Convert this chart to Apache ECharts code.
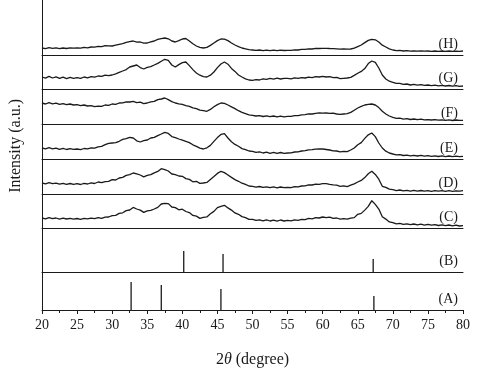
<!DOCTYPE html>
<html>
<head>
<meta charset="utf-8">
<script src="https://cdn.jsdelivr.net/npm/echarts@6/dist/echarts.min.js"></script>
<style>html,body{margin:0;padding:0;background:#fff;}#chart{width:504px;height:371px;}</style>
</head>
<body>
<div id="chart"></div>
<script>
// 2θ sampling positions (degrees)
const twoTheta = [
20,20.5,21,21.5,22,22.5,23,23.5,24,24.5,
25,25.5,26,26.5,27,27.5,28,28.5,29,29.5,
30,30.5,31,31.5,32,32.5,33,33.5,34,34.5,
35,35.5,36,36.5,37,37.5,38,38.5,39,39.5,
40,40.5,41,41.5,42,42.5,43,43.5,44,44.5,
45,45.5,46,46.5,47,47.5,48,48.5,49,49.5,
50,50.5,51,51.5,52,52.5,53,53.5,54,54.5,
55,55.5,56,56.5,57,57.5,58,58.5,59,59.5,
60,60.5,61,61.5,62,62.5,63,63.5,64,64.5,
65,65.5,66,66.5,67,67.5,68,68.5,69,69.5,
70,70.5,71,71.5,72,72.5,73,73.5,74,74.5,
75,75.5,76,76.5,77,77.5,78,78.5,79,79.5,
80];

const xTicks = [20,25,30,35,40,45,50,55,60,65,70,75,80];

// Measured patterns (intensity, a.u.)
const patternC = [
10.0,9.1,10.4,9.3,10.0,8.9,9.8,9.0,9.7,8.8,
9.5,8.7,9.6,9.2,9.9,9.4,10.4,9.6,10.8,11.0,
12.4,12.6,14.6,15.2,17.4,18.0,20.6,19.0,17.9,15.6,
17.2,17.6,19.0,20.6,24.0,24.6,24.4,21.0,20.4,18.2,
18.8,16.5,15.4,12.6,11.9,9.6,10.7,11.1,14.2,16.6,
20.4,21.6,22.7,20.1,17.9,15.1,13.7,11.4,10.4,8.6,
8.7,7.6,8.2,7.2,8.1,7.0,7.9,6.9,8.0,7.0,
7.7,7.2,8.2,7.7,8.7,8.4,9.6,9.2,10.4,10.0,
11.0,10.3,10.9,9.6,10.0,8.9,9.4,8.8,9.9,10.4,
13.7,14.6,17.9,21.6,27.3,23.6,18.9,11.3,8.9,6.1,
5.4,4.1,4.6,3.6,4.2,3.3,4.0,3.1,3.8,2.9,
3.7,2.8,3.4,2.5,3.2,2.3,3.0,2.1,2.8,2.0,
2.3];

const patternD = [
11.0,10.2,11.4,10.3,10.9,9.8,10.7,9.6,10.5,9.7,
10.3,9.5,10.6,10.0,11.1,10.5,12.0,11.4,12.4,12.6,
14.3,14.0,16.0,16.6,18.6,19.4,21.0,20.2,19.0,17.2,
18.6,19.4,21.2,22.6,25.3,24.4,23.0,20.0,19.3,18.0,
17.7,15.4,14.6,12.2,12.7,10.6,11.0,11.6,14.6,17.4,
20.6,22.7,21.4,19.0,16.6,14.4,12.7,10.8,9.6,8.0,
7.7,6.9,7.5,6.6,7.2,6.3,7.1,6.2,7.0,6.3,
6.7,6.4,7.3,7.1,8.0,8.2,9.1,9.0,9.9,9.6,
10.3,10.4,9.6,9.1,8.8,7.7,8.2,7.4,8.8,10.2,
12.0,13.6,16.4,20.2,22.7,19.6,14.8,7.7,6.6,4.8,
4.3,3.4,4.0,3.1,3.7,2.9,3.6,2.9,3.5,2.9,
3.3,2.7,3.4,2.8,3.3,2.6,3.3,2.7,3.2,2.8,
3.3];

const patternE = [
11.0,10.1,11.3,10.2,10.8,9.7,10.6,9.5,10.4,9.6,
10.0,9.4,10.5,10.2,11.2,10.8,12.2,12.6,14.4,15.6,
16.0,16.4,17.7,19.6,20.4,21.6,21.0,18.2,17.0,18.4,
19.0,21.0,21.7,23.4,25.0,26.7,25.6,22.4,21.4,20.0,
18.8,17.6,16.4,14.2,12.7,10.9,10.0,11.2,13.6,17.6,
21.4,24.6,25.3,21.0,17.2,14.6,12.7,10.4,9.4,8.0,
7.7,6.6,7.1,6.0,6.8,5.7,6.6,5.6,6.5,5.7,
6.0,6.2,7.0,7.2,8.0,8.4,9.2,9.4,9.9,10.2,
10.0,9.5,9.0,8.2,8.0,7.2,7.7,7.4,9.0,11.0,
14.3,16.4,20.6,24.2,26.0,22.4,16.0,11.0,7.8,6.0,
5.0,4.2,4.4,3.5,3.9,3.1,3.7,3.0,3.6,2.9,
3.3,2.7,3.2,2.5,3.1,2.4,3.0,2.3,2.9,2.3,
2.7];

const patternF = [
21.0,20.0,21.4,20.2,20.8,19.6,20.4,19.3,20.0,19.0,
19.3,18.4,19.0,18.0,18.4,17.4,17.9,17.7,19.0,18.6,
20.0,19.6,21.0,21.2,22.2,22.0,22.7,21.4,21.8,20.4,
21.0,22.2,22.6,24.4,25.0,26.0,24.4,22.4,21.0,20.2,
19.6,18.4,17.7,16.2,15.4,13.8,13.4,12.7,14.6,17.2,
19.4,21.0,20.6,19.0,17.2,15.4,13.3,11.6,10.4,9.2,
8.7,8.0,8.4,7.5,8.2,7.3,8.0,7.2,7.9,7.2,
7.7,7.6,8.4,8.4,9.2,9.4,10.2,10.0,10.6,11.2,
10.8,11.0,10.6,10.8,10.0,9.6,10.0,10.4,11.6,13.8,
16.0,17.6,19.0,19.6,20.0,19.0,16.4,12.7,10.0,8.0,
6.7,5.6,5.9,4.9,5.3,4.5,5.0,4.3,4.8,4.1,
4.3,4.0,4.4,3.8,4.2,3.6,4.1,3.5,4.0,3.6,
3.7];

const patternG = [
12.0,10.8,12.6,11.0,12.2,10.6,11.8,10.4,11.6,10.7,
11.3,10.6,12.0,11.2,12.4,11.8,13.0,12.6,13.8,13.4,
14.0,15.2,16.6,18.0,19.4,22.0,23.0,24.0,21.4,20.0,
21.6,22.4,24.0,25.6,27.8,29.7,28.6,24.0,22.0,24.4,
26.4,27.0,23.4,19.4,16.0,13.8,12.4,12.0,13.8,17.0,
21.4,25.0,27.0,24.8,20.6,17.6,14.0,12.0,10.2,9.0,
8.6,9.4,9.0,10.2,9.6,10.6,9.8,10.8,10.0,10.6,
10.7,10.2,11.2,10.6,11.4,11.0,11.8,11.4,12.4,12.0,
12.6,12.0,12.4,11.4,11.6,10.4,10.7,11.0,11.6,13.6,
15.7,17.6,20.4,25.4,28.0,26.6,21.0,14.0,10.0,7.8,
6.7,5.6,5.6,4.6,5.0,4.0,4.6,3.8,4.4,3.6,
4.0,3.4,3.9,3.2,3.7,3.0,3.5,2.8,3.4,2.7,
3.0];

const patternH = [
7.0,6.4,7.3,6.6,7.1,6.3,7.0,6.5,7.2,6.8,
7.2,6.8,7.6,7.2,8.0,7.8,8.6,8.4,9.4,9.2,
9.0,9.8,10.6,11.4,12.6,13.4,14.0,12.8,13.0,11.8,
12.0,13.2,14.0,15.6,16.4,17.0,16.2,14.0,13.0,14.4,
16.0,16.5,14.0,11.2,9.0,7.6,7.0,7.6,9.6,12.0,
14.4,16.0,15.8,14.4,12.0,10.0,8.4,7.0,6.2,5.4,
5.0,4.6,5.0,4.4,4.9,4.3,4.8,4.3,4.8,4.5,
4.7,4.6,5.2,5.0,5.6,5.6,6.2,6.0,6.7,6.5,
6.6,6.7,6.5,6.4,6.2,5.8,6.2,5.9,6.0,6.8,
8.4,10.0,12.4,14.6,15.7,15.2,13.0,9.8,8.0,6.2,
5.0,4.4,4.6,4.0,4.3,3.8,4.2,3.8,4.1,3.8,
4.0,3.7,4.0,3.6,4.0,3.7,4.0,3.6,3.9,3.7,
4.0];

// Reference stick patterns
const refAPositions = [32.7, 37.0, 45.5, 67.3];
const refAIntensity = [28, 25, 21, 14];
const refBPositions = [40.2, 45.8, 67.2];
const refBIntensity = [21, 18, 13];

const bandLabels = ['(H)','(G)','(F)','(E)','(D)','(C)','(B)','(A)'];

// Layout of stacked bands (top px, height px), top to bottom
const bands = [
  {top: 0, h: 55},
  {top: 55, h: 34},
  {top: 89, h: 35},
  {top: 124, h: 35},
  {top: 159, h: 35},
  {top: 194, h: 34},
  {top: 228, h: 44},
  {top: 272, h: 38}
];

const FONT = '"Liberation Serif","DejaVu Serif",serif';
const INK = '#1a1a1a';
const LEFT = 42, RIGHT = 41;

const lineSets = [patternH, patternG, patternF, patternE, patternD, patternC];

const grid = [], xAxis = [], yAxis = [], series = [], graphic = [];
bands.forEach((b, i) => {
  const isBottom = i === bands.length - 1;
  grid.push({left: LEFT, right: RIGHT, top: b.top, height: b.h});
  xAxis.push({
    type: 'value', gridIndex: i, min: 20, max: 80, interval: 5,
    axisLine: {show: true, lineStyle: {color: INK, width: 1}},
    axisTick: {show: isBottom, length: 4, lineStyle: {color: INK}},
    minorTick: {show: isBottom, splitNumber: 2, length: 3, lineStyle: {color: INK}},
    axisLabel: {show: isBottom, fontFamily: FONT, fontSize: 14, color: INK, margin: 8,
      formatter: v => xTicks.includes(v) ? String(v) : ''},
    splitLine: {show: false},
    name: isBottom ? '2{i|θ} (degree)' : '',
    nameLocation: 'middle', nameGap: 42,
    nameTextStyle: {fontFamily: FONT, fontSize: 16, color: INK,
      rich: {i: {fontFamily: FONT, fontStyle: 'italic', fontSize: 16, color: INK}}}
  });
  yAxis.push({
    type: 'value', gridIndex: i, min: 0, max: b.h,
    axisLine: {show: true, lineStyle: {color: INK, width: 1}},
    axisTick: {show: false}, axisLabel: {show: false}, splitLine: {show: false}
  });
  graphic.push({
    type: 'text', right: 46, top: b.top + b.h - 18,
    style: {text: bandLabels[i], font: '14px ' + FONT, fill: INK}
  });
});

lineSets.forEach((vals, i) => {
  series.push({
    type: 'line', xAxisIndex: i, yAxisIndex: i, showSymbol: false, silent: true,
    data: twoTheta.map((t, k) => [t, vals[k]]),
    lineStyle: {color: INK, width: 1.3}
  });
});

series.push({
  type: 'bar', xAxisIndex: 6, yAxisIndex: 6, barWidth: 1.3, silent: true,
  itemStyle: {color: INK},
  data: refBPositions.map((p, k) => [p, refBIntensity[k]])
});
series.push({
  type: 'bar', xAxisIndex: 7, yAxisIndex: 7, barWidth: 1.3, silent: true,
  itemStyle: {color: INK},
  data: refAPositions.map((p, k) => [p, refAIntensity[k]])
});

graphic.push({
  type: 'text', left: 8, top: 99, rotation: Math.PI / 2,
  style: {text: 'Intensity (a.u.)', font: '16px ' + FONT, fill: INK}
});

const chart = echarts.init(document.getElementById('chart'), null, {renderer: 'canvas'});
chart.setOption({
  animation: false,
  backgroundColor: '#fff',
  grid, xAxis, yAxis, series, graphic
});
</script>
</body>
</html>
